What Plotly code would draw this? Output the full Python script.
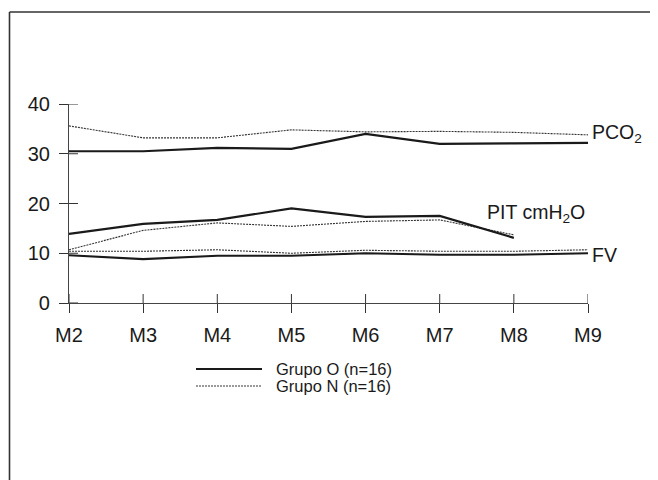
import plotly.graph_objects as go

# ---- data ----
categories = ["M2", "M3", "M4", "M5", "M6", "M7", "M8", "M9"]
pco2_o = [30.5, 30.5, 31.2, 31.0, 34.0, 32.0, 32.1, 32.2]
pco2_n = [35.6, 33.2, 33.2, 34.8, 34.4, 34.5, 34.3, 33.8]
pit_o = [13.9, 15.9, 16.7, 19.0, 17.3, 17.5, 13.1]
pit_n = [10.7, 14.6, 16.1, 15.4, 16.4, 16.7, 13.7]
fv_o = [9.6, 8.8, 9.5, 9.5, 10.0, 9.7, 9.7, 10.0]
fv_n = [10.4, 10.4, 10.7, 10.0, 10.6, 10.4, 10.4, 10.7]
y_ticks = [0, 10, 20, 30, 40]
legend_labels = ["Grupo O (n=16)", "Grupo N (n=16)"]

FONT = "Liberation Sans, Arial, sans-serif"
INK = "#1a1a1a"
solid = dict(color=INK, width=2.2)
dashed = dict(color="#333333", width=1.1, dash="2px,1px")

fig = go.Figure()
for ys, ln in [(pco2_n, dashed), (pco2_o, solid),
               (pit_n, dashed), (pit_o, solid),
               (fv_n, dashed), (fv_o, solid)]:
    fig.add_trace(go.Scatter(x=categories[:len(ys)], y=ys, mode="lines",
                             line=ln, showlegend=False, hoverinfo="skip"))

# page offset of 8px (body margin) compensated
OFF = 8
W, H = 658 - OFF, 480 - OFF
L, T = 69 - OFF, 104 - OFF
pw, ph = 519, 199
R, B = W - L - pw, H - T - ph
TICK = 9


def px(x):
    return (x - OFF - L) / pw


def py(y):
    return (H - B - (y - OFF)) / ph


axis_common = dict(showgrid=False, zeroline=False, ticklen=TICK, tickwidth=1,
                   tickcolor="#333333", linecolor="#444444", linewidth=1.2,
                   tickfont=dict(family=FONT, size=20, color=INK))

fig.update_layout(
    width=W, height=H,
    margin=dict(l=L, r=R, t=T, b=B, pad=0),
    paper_bgcolor="white", plot_bgcolor="white",
    showlegend=False,
    xaxis=dict(type="category", categoryorder="array", categoryarray=categories,
               range=[0, len(categories) - 1], showline=True, ticks="outside",
               ticklabelstandoff=5, **axis_common),
    yaxis=dict(range=[0, 40], tickvals=y_ticks, showline=True, ticks="outside",
               ticklabelstandoff=5, **axis_common),
)

# inner half of the crossing tick marks
tick_line = dict(color="#333333", width=1)
for v in y_ticks:
    fig.add_shape(type="line", xref="paper", yref="y", x0=0, x1=TICK / pw,
                  y0=v, y1=v, line=tick_line, layer="above")
for c in categories:
    fig.add_shape(type="line", xref="x", yref="paper", x0=c, x1=c,
                  y0=0, y1=TICK / ph, line=tick_line, layer="above")

# series labels
lab_font = dict(family=FONT, size=19.5, color=INK)
fig.add_annotation(x=len(categories) - 1, y=34.6, xref="x", yref="y",
                   text="PCO<sub>2</sub>", showarrow=False, xanchor="left",
                   xshift=2, yshift=-3, font=lab_font)
fig.add_annotation(x=len(categories) - 1, y=9.6, xref="x", yref="y",
                   text="FV", showarrow=False, xanchor="left",
                   xshift=2, font=lab_font)
fig.add_annotation(x=5.61, y=18.0, xref="x", yref="y",
                   text="PIT cmH<sub>2</sub>O", showarrow=False, xanchor="left",
                   font=lab_font)

# legend (drawn manually)
leg_font = dict(family=FONT, size=16.5, color=INK)
for i, (lbl, ln) in enumerate(zip(legend_labels, [solid, dashed])):
    yy = 369 + i * 17
    fig.add_shape(type="line", xref="paper", yref="paper",
                  x0=px(196), x1=px(262), y0=py(yy), y1=py(yy),
                  line=dict(color=ln["color"], width=ln["width"] * 0.9,
                            dash=ln.get("dash", "solid")))
    fig.add_annotation(x=px(274), y=py(yy), xref="paper", yref="paper",
                       text=lbl, showarrow=False, xanchor="left",
                       yanchor="middle", font=leg_font)

# frame (top and left edges)
fig.add_shape(type="line", xref="paper", yref="paper",
              x0=px(9.5), x1=px(700), y0=py(12), y1=py(12),
              line=dict(color="#333333", width=1.6))
fig.add_shape(type="line", xref="paper", yref="paper",
              x0=px(9.5), x1=px(9.5), y0=py(12), y1=py(520),
              line=dict(color="#333333", width=1.6))

fig.write_html("out.html")
